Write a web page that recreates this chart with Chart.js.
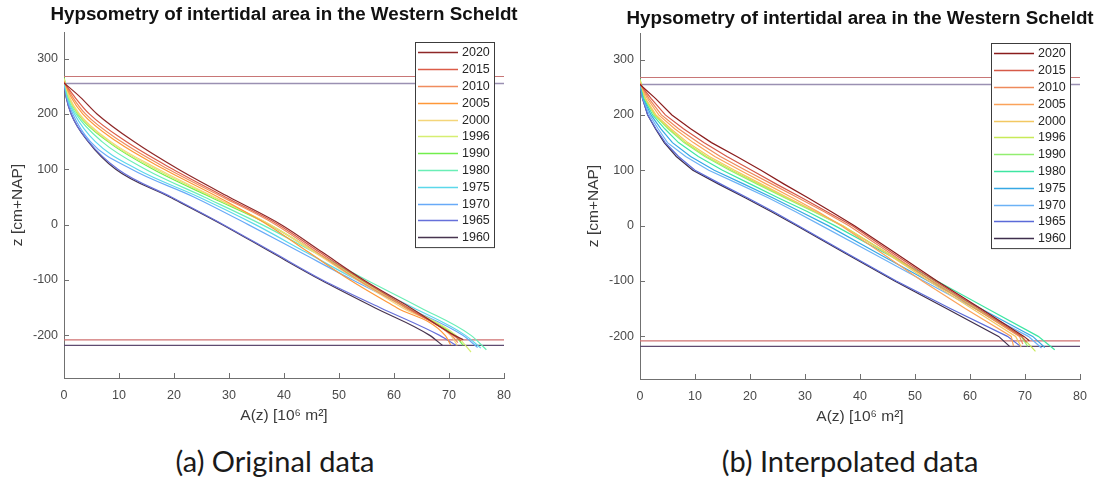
<!DOCTYPE html>
<html>
<head>
<meta charset="utf-8">
<script src="https://cdn.jsdelivr.net/npm/chart.js@4.4.1/dist/chart.umd.min.js"></script>
<style>
  html, body { margin:0; padding:0; background:#fff; }
  #page { position:relative; width:1115px; height:481px; overflow:hidden; }
  .panel { position:absolute; }
  .cap { position:absolute; top:443px; font-family:Lato, "Open Sans", sans-serif; font-size:29px; color:#1a1a1a;
         line-height:35px; transform:translateX(-50%); white-space:nowrap; }
</style>
</head>
<body>
<div id="page">
  <canvas id="cA" class="panel" width="540" height="430" style="left:0;top:0"></canvas>
  <canvas id="cB" class="panel" width="540" height="430" style="left:576px;top:1px"></canvas>
  <div class="cap" style="left:275px">(a) Original data</div>
  <div class="cap" style="left:850px">(b) Interpolated data</div>
</div>
<script>
// ── data ────────────────────────────────────────────────────────────────
const YEARS = ["2020","2015","2010","2005","2000","1996","1990","1980","1975","1970","1965","1960"];
const X_TICKS = [0,10,20,30,40,50,60,70,80];
const Y_TICKS = [-200,-100,0,100,200,300];

// reference levels (cm+NAP): high / low water, 2020 and 1960
const HW_2020 = 267.6, LW_2020 = -208;
const HW_1960 = 255,   LW_1960 = -218;

// (a) original data: A(z) [10^6 m2] at these z levels
const Z_A = [230, 200, 150, 100, 50, 0, -50, -100, -150, -200];
const orig2020 = [3.0, 6.0, 12.7, 20.8, 30.0, 39.5, 47.0, 54.5, 63.0, 71.0];
const orig2015 = [2.0, 4.6, 11.3, 19.8, 29.3, 39.0, 46.5, 54.2, 62.5, 70.8];
const orig2010 = [1.6, 3.9, 10.4, 19.0, 28.8, 38.5, 46.0, 53.5, 62.0, 70.5];
const orig2005 = [1.3, 3.4, 9.6, 18.2, 28.0, 37.0, 44.5, 52.0, 60.5, 69.3];
const orig2000 = [1.0, 2.8, 8.5, 17.2, 27.3, 37.5, 45.5, 53.3, 61.5, 70.3];
const orig1996 = [0.9, 2.6, 8.2, 16.7, 27.0, 37.5, 45.8, 53.8, 62.5, 71.3];
const orig1990 = [0.9, 2.5, 8.0, 16.2, 26.6, 37.3, 45.8, 54.0, 62.3, 71.0];
const orig1980 = [0.7, 2.2, 6.9, 14.8, 25.5, 36.0, 45.5, 55.0, 64.8, 74.0];
const orig1975 = [0.6, 1.9, 5.7, 13.3, 24.5, 34.8, 44.0, 53.3, 63.5, 73.0];
const orig1970 = [0.5, 1.6, 4.8, 12.3, 23.6, 33.5, 43.0, 52.5, 62.5, 72.5];
const orig1965 = [0.4, 1.3, 4.5, 9.8, 19.5, 29.0, 38.0, 47.0, 57.5, 68.3];
const orig1960 = [0.4, 1.3, 4.4, 9.4, 19.2, 28.8, 37.7, 46.7, 56.5, 66.5];
const ORIG_TOP = [256, 257, 258, 259, 262, 264, 266, 263, 260, 258, 255, 255];   // z where A = 0
const ORIG_END = [[72.6,-208],[72.2,-210],[71.6,-213],[70.3,-217],[71.5,-218],[74.0,-230],
                  [72.6,-218],[76.8,-226],[75.8,-223],[75.2,-222],[71.3,-218],[68.8,-218]];

// (b) interpolated data
const Z_B = [230, 200, 175, 150, 125, 100, 75, 50, 25, 0, -50, -100, -150, -200];
const intp2020 = [2.8, 5.8, 9.2, 13.0, 17.6, 22.0, 26.2, 30.6, 34.8, 39.0, 46.5, 54.0, 62.0, 69.8];
const intp2015 = [2.0, 4.6, 7.9, 11.6, 15.8, 20.3, 24.8, 29.5, 34.0, 38.6, 46.0, 53.6, 61.6, 69.4];
const intp2010 = [1.6, 3.9, 7.0, 10.6, 14.6, 19.2, 24.0, 28.8, 33.5, 38.0, 45.5, 53.0, 61.0, 69.0];
const intp2005 = [1.3, 3.4, 6.3, 9.7, 13.6, 18.2, 23.0, 27.8, 32.4, 36.6, 44.0, 51.3, 59.2, 67.5];
const intp2000 = [1.0, 2.9, 5.6, 8.7, 12.6, 17.2, 22.1, 27.0, 32.0, 36.8, 44.8, 52.5, 60.4, 68.3];
const intp1996 = [0.9, 2.7, 5.3, 8.3, 12.1, 16.7, 21.7, 26.7, 31.9, 36.9, 45.0, 53.0, 61.0, 69.4];
const intp1990 = [0.9, 2.6, 5.1, 8.0, 11.8, 16.3, 21.3, 26.4, 31.6, 36.7, 45.0, 53.2, 61.2, 69.3];
const intp1980 = [0.7, 2.3, 4.5, 7.0, 10.6, 15.0, 20.1, 25.2, 30.5, 35.4, 44.6, 54.0, 63.2, 72.4];
const intp1975 = [0.6, 2.0, 3.8, 5.9, 9.2, 13.5, 18.9, 24.2, 29.2, 34.2, 43.2, 52.4, 62.0, 71.4];
const intp1970 = [0.5, 1.7, 3.3, 5.0, 8.3, 12.5, 18.0, 23.4, 28.3, 33.0, 42.3, 51.6, 61.0, 70.6];
const intp1965 = [0.45, 1.4, 2.9, 4.6, 7.0, 10.0, 14.7, 19.6, 24.3, 28.8, 37.6, 46.6, 56.5, 66.8];
const intp1960 = [0.45, 1.4, 2.8, 4.4, 6.6, 9.6, 14.3, 19.2, 23.9, 28.5, 37.3, 46.3, 55.8, 65.2];
const INTP_TOP = [255, 256, 257, 258, 261, 263, 265, 262, 259, 257, 255, 255];
const INTP_END = [[70.8,-208],[70.3,-211],[69.6,-214],[67.9,-217],[69.3,-219],[71.9,-227],
                  [70.5,-218],[75.4,-224],[73.6,-220],[73.0,-221],[69.3,-219],[67.2,-218]];

// ── styles ──────────────────────────────────────────────────────────────
const COLORS_A = ["#8e2727","#dc5c48","#f08c5e","#ff9838","#f4d57a","#d6ee72",
                  "#72ee4c","#6aeeb6","#5cd8ea","#68aaf8","#6670da","#47344f"];
const COLORS_B = ["#8a1c1c","#d65a48","#ee8a5c","#fba35a","#f2c862","#c8ea58",
                  "#92ee70","#3ee6a2","#36a8e4","#6cb2f6","#5a6ad8","#3f2e4c"];
const AXIS = "#707070", TICKTXT = "#4a4a4a";
const FONT = '"Liberation Sans", Arial, Helvetica, sans-serif';
Chart.defaults.font.family = FONT;

function curve(top, zs, as, end){
  return [[0, top], ...zs.map((z,i)=>[as[i], z]), end];
}

const decor = {
  id: "decor",
  afterDatasetsDraw(chart, args, o){
    const ctx = chart.ctx, a = chart.chartArea;
    // legend box inside axes
    const x0 = a.left + 351, y0 = a.top + 10, w = 79, rowH = 16.8;
    const h = rowH * o.labels.length + 3.5;
    ctx.save();
    ctx.fillStyle = "#fff"; ctx.fillRect(x0, y0, w, h);
    ctx.strokeStyle = "#3c3c3c"; ctx.lineWidth = 1; ctx.strokeRect(x0 + 0.5, y0 + 0.5, w, h);
    ctx.font = "12.5px " + FONT; ctx.textBaseline = "middle"; ctx.textAlign = "left";
    o.labels.forEach((t, i) => {
      const y = Math.round(y0 + 10.3 + i * rowH) + 0.5;
      ctx.strokeStyle = o.colors[i]; ctx.lineWidth = 1.3;
      ctx.beginPath(); ctx.moveTo(x0 + 3, y); ctx.lineTo(x0 + 43, y); ctx.stroke();
      ctx.fillStyle = "#262626"; ctx.fillText(t, x0 + 47, y);
    });
    ctx.restore();
  },
  afterDraw(chart, args, o){
    const ctx = chart.ctx, a = chart.chartArea, xs = chart.scales.x, ys = chart.scales.y;
    ctx.save();
    // inward tick marks
    ctx.strokeStyle = AXIS; ctx.lineWidth = 1;
    ctx.beginPath();
    xs.ticks.forEach(t => { const p = Math.round(xs.getPixelForValue(t.value)) + 0.5;
      ctx.moveTo(p, a.bottom); ctx.lineTo(p, a.bottom - 5); });
    ys.ticks.forEach(t => { const p = Math.round(ys.getPixelForValue(t.value)) + 0.5;
      ctx.moveTo(a.left, p); ctx.lineTo(a.left + 5, p); });
    ctx.stroke();
    // title
    ctx.fillStyle = "#111"; ctx.font = "bold 18.8px " + FONT;
    ctx.textAlign = "center"; ctx.textBaseline = "middle";
    ctx.fillText(o.title, (a.left + a.right) / 2, o.titleY);
    ctx.restore();
  }
};

function makePanel(id, series, top, end, zs, colors, smooth, titleY){
  const sets = series.map((as, i) => ({
    label: YEARS[i], data: curve(top[i], zs, as, end[i]),
    borderColor: colors[i], borderWidth: 1.2, pointRadius: 0, showLine: true, fill: false,
    cubicInterpolationMode: smooth ? "monotone" : "default", tension: 0
  }));
  const level = (v, c, w) => ({ data: [[0, v], [80, v]], borderColor: c, borderWidth: w,
    pointRadius: 0, showLine: true, fill: false });
  sets.push(level(HW_2020, "#c87676", 1.2), level(HW_1960, "#9a90b2", 1.4),
            level(LW_2020, "#cf7070", 1.2), level(LW_1960, "#5e4b70", 1.2));

  return new Chart(document.getElementById(id), {
    type: "scatter",
    data: { datasets: sets },
    options: {
      responsive: false, animation: false, events: [],
      layout: { padding: { top: 32, right: 36, bottom: 4, left: 0 } },
      plugins: { legend: { display: false }, tooltip: { enabled: false },
        decor: { title: "Hypsometry of intertidal area in the Western Scheldt", titleY, labels: YEARS, colors } },
      scales: {
        x: { type: "linear", min: 0, max: 80,
          afterBuildTicks: s => { s.ticks = X_TICKS.map(v => ({ value: v })); },
          afterFit: s => { s.height = 48; },
          grid: { display: false, drawTicks: false }, border: { display: true, color: AXIS, width: 1 },
          ticks: { color: TICKTXT, font: { size: 12.5 }, padding: 10, maxRotation: 0 },
          title: { display: true, text: "A(z) [10\u2076 m\u00b2]", color: "#3a3a3a", font: { size: 15.5 },
                   padding: { top: 0, bottom: 1 } } },
        y: { type: "linear", min: -277, max: 348,
          afterBuildTicks: s => { s.ticks = Y_TICKS.map(v => ({ value: v })); },
          afterFit: s => { s.width = 64; },
          grid: { display: false, drawTicks: false }, border: { display: true, color: AXIS, width: 1 },
          ticks: { color: TICKTXT, font: { size: 12.5 }, padding: 6 },
          title: { display: true, text: "z [cm+NAP]", color: "#3a3a3a", font: { size: 15.5 },
                   padding: { top: 8, bottom: 0 } } }
      }
    },
    plugins: [decor]
  });
}

makePanel("cA", [orig2020, orig2015, orig2010, orig2005, orig2000, orig1996, orig1990,
                 orig1980, orig1975, orig1970, orig1965, orig1960],
          ORIG_TOP, ORIG_END, Z_A, COLORS_A, true, 15);
makePanel("cB", [intp2020, intp2015, intp2010, intp2005, intp2000, intp1996, intp1990,
                 intp1980, intp1975, intp1970, intp1965, intp1960],
          INTP_TOP, INTP_END, Z_B, COLORS_B, false, 18);
</script>
</body>
</html>
